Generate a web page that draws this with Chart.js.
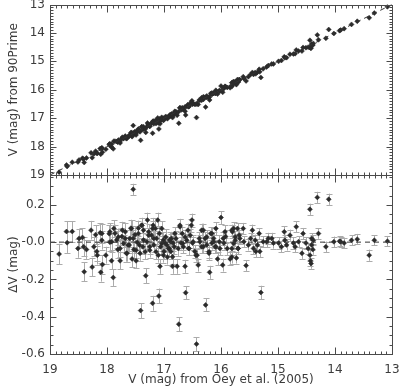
<!DOCTYPE html>
<html><head><meta charset="utf-8">
<script src="https://cdn.jsdelivr.net/npm/chart.js@4/dist/chart.umd.min.js"></script>
<style>
html,body{margin:0;padding:0;background:#fff;}
#wrap{position:relative;width:400px;height:388px;overflow:hidden;background:#fff;}
#c1{position:absolute;left:0;top:0;}
#c2{position:absolute;left:0;top:165px;}
</style></head><body>
<div id="wrap">
<canvas id="c1" width="400" height="180"></canvas>
<canvas id="c2" width="400" height="223"></canvas>
</div>
<script>
// V (mag) from Oey et al. (2005)
const V = [18.84,18.71,18.70,18.61,18.51,18.49,18.43,18.41,18.40,18.36,
18.28,18.26,18.23,18.20,18.18,18.17,18.12,18.11,18.09,18.08,
18.02,17.96,17.95,17.92,17.89,17.86,17.83,17.81,17.77,17.74,
17.71,17.68,17.65,17.63,17.60,17.58,17.56,17.54,17.53,17.51,
17.49,17.47,17.45,17.42,17.41,17.39,17.37,17.36,17.32,17.30,
17.27,17.25,17.22,17.20,17.19,17.18,17.15,17.13,17.11,17.10,
17.09,17.07,17.06,17.04,17.01,17.00,16.98,16.95,16.94,16.91,
16.90,16.88,16.85,16.84,16.82,16.79,16.77,16.75,16.74,16.72,
16.70,16.68,16.66,16.63,16.62,16.60,16.58,16.56,16.54,16.51,
16.50,16.46,16.43,16.42,16.40,16.37,16.34,16.31,16.28,16.27,
16.25,16.21,16.20,16.18,16.16,16.13,16.10,16.09,16.06,16.03,
16.00,15.97,15.95,15.92,15.89,15.84,15.81,15.81,15.78,15.80,
15.75,15.73,15.71,15.70,15.68,15.61,15.60,15.56,15.52,15.48,
15.45,15.43,15.40,15.39,15.36,15.33,15.32,15.30,15.26,15.20,
15.17,15.11,15.08,14.99,14.94,14.89,14.88,14.85,14.79,14.73,
14.70,14.68,14.64,14.58,14.56,14.51,14.47,14.44,14.44,14.43,
14.42,14.41,14.41,14.39,14.38,14.31,14.29,14.16,14.11,14.02,
13.92,13.90,13.84,13.71,13.61,13.40,13.31,13.08,
18.09,17.95,17.92,17.88,17.80,17.77,17.73,17.68,17.66,17.61,
17.57,17.54,17.49,17.45,17.43,17.39,17.36,17.33,17.29,17.27,
17.25,17.20,17.18,17.14,17.08,17.04,17.01,16.97,16.92,16.88,
16.85,
16.87,16.81,16.72,16.67,16.63,16.57,16.52,16.49,16.44,16.38,
16.34,16.31,16.25,16.21,16.16,16.13,16.09,16.02,15.96,15.93,
15.81,15.78,15.75,15.70,15.67];

// V (mag) from 90Prime
const V90 = [18.90,18.65,18.70,18.55,18.54,18.47,18.41,18.44,18.56,18.40,
18.22,18.39,18.26,18.16,18.23,18.24,18.07,18.27,18.08,18.20,
18.09,17.92,17.95,18.02,18.08,17.81,17.82,17.85,17.87,17.71,
17.72,17.63,17.71,17.65,17.58,17.51,17.65,17.26,17.57,17.47,
17.59,17.47,17.38,17.48,17.78,17.30,17.40,17.30,17.50,17.30,
17.22,17.29,17.18,17.53,17.10,17.20,17.08,17.11,16.99,17.17,
17.38,17.20,17.09,16.97,17.00,17.05,16.99,16.97,17.02,16.94,
16.89,16.93,16.98,16.85,16.85,16.77,16.90,16.78,17.18,16.64,
16.71,16.63,16.69,16.76,16.89,16.59,16.52,16.59,16.50,16.39,
16.51,16.51,16.98,16.49,16.52,16.37,16.28,16.34,16.26,16.61,
16.27,16.27,16.36,16.13,16.17,16.11,16.13,16.02,16.15,16.03,
15.87,16.09,15.96,15.89,15.92,15.93,15.84,15.89,15.71,15.75,
15.74,15.82,15.64,15.73,15.64,15.54,15.60,15.69,15.54,15.46,
15.39,15.46,15.39,15.44,15.38,15.28,15.37,15.57,15.26,15.20,
15.15,15.09,15.09,15.00,14.97,14.84,14.87,14.87,14.75,14.74,
14.73,14.60,14.64,14.64,14.51,14.52,14.50,14.26,14.51,14.53,
14.54,14.39,14.43,14.43,14.37,14.07,14.24,14.19,13.88,14.02,
13.92,13.90,13.85,13.70,13.59,13.47,13.30,13.08,
18.04,17.90,17.92,17.81,17.77,17.80,17.67,17.66,17.72,17.63,
17.50,17.52,17.53,17.40,17.45,17.30,17.35,17.38,17.17,17.23,
17.28,17.13,17.16,17.19,17.03,17.05,17.08,16.94,16.95,16.88,
16.93,
16.85,16.76,16.63,16.68,16.60,16.60,16.43,16.49,16.51,16.36,
16.37,16.25,16.22,16.26,16.11,16.13,16.12,16.05,15.94,15.88,
15.75,15.79,15.72,15.73,15.65];

// Delta V (mag)
const dV = [-0.064,0.057,-0.003,0.057,-0.034,0.02,0.025,-0.025,-0.159,-0.04,
0.064,-0.134,-0.025,0.04,-0.05,-0.07,0.05,-0.162,0.01,-0.12,
-0.07,0.045,0.0,-0.1,-0.19,0.048,0.012,-0.04,-0.1,0.03,
-0.007,0.055,-0.06,-0.015,0.02,0.075,-0.09,0.283,-0.04,0.04,
-0.1,0.0,0.075,-0.06,-0.367,0.09,-0.025,0.064,-0.18,0.002,
0.055,-0.043,0.037,-0.328,0.09,-0.015,0.073,0.02,0.118,-0.07,
-0.289,-0.13,-0.025,0.073,0.012,-0.05,-0.005,-0.015,-0.08,-0.034,
0.012,-0.05,-0.13,-0.005,-0.025,0.02,-0.13,-0.034,-0.44,0.082,
-0.005,0.046,-0.025,-0.13,-0.271,0.01,0.064,-0.034,0.037,0.118,
-0.005,-0.05,-0.547,-0.07,-0.123,0.002,0.064,-0.025,0.02,-0.337,
-0.015,-0.06,-0.162,0.046,-0.005,0.02,-0.025,0.073,-0.09,0.002,
0.132,-0.123,-0.005,0.03,-0.034,-0.09,-0.034,-0.08,0.073,0.055,
0.01,-0.085,0.073,-0.034,0.037,0.073,0.002,-0.126,-0.015,0.02,
0.064,-0.034,0.01,-0.05,-0.015,0.046,-0.05,-0.27,0.002,0.002,
0.02,0.02,-0.005,-0.005,-0.025,0.055,0.01,-0.015,0.037,-0.005,
-0.025,0.082,0.002,-0.06,0.046,-0.005,-0.034,0.176,-0.07,-0.1,
-0.115,0.02,-0.015,-0.04,0.01,0.24,0.046,-0.025,0.23,0.002,
0.005,0.002,-0.005,0.01,0.016,-0.07,0.01,0.005,
0.046,0.055,0.002,0.073,0.028,-0.034,0.064,0.02,-0.06,-0.016,
0.073,0.02,-0.043,0.046,-0.016,0.09,0.011,-0.052,0.118,0.037,
-0.025,0.073,0.02,-0.052,0.046,-0.007,-0.07,0.028,-0.034,0.002,
-0.079,
0.02,0.046,0.09,-0.007,0.028,-0.034,0.09,0.002,-0.07,0.02,
-0.025,0.064,0.028,-0.052,0.046,0.002,-0.025,-0.034,0.02,0.055,
0.064,-0.007,0.028,-0.034,0.02];

// error of Delta V (mag)
const dVerr = [0.055,0.055,0.055,0.055,0.05,0.05,0.05,0.05,0.05,0.05,
0.05,0.05,0.05,0.05,0.05,0.05,0.05,0.05,0.05,0.05,
0.045,0.045,0.045,0.045,0.045,0.045,0.045,0.045,0.045,0.045,
0.045,0.045,0.045,0.045,0.045,0.045,0.045,0.03,0.045,0.045,
0.04,0.04,0.04,0.04,0.04,0.04,0.04,0.04,0.04,0.04,
0.04,0.04,0.04,0.04,0.04,0.04,0.04,0.04,0.04,0.04,
0.04,0.04,0.04,0.04,0.04,0.04,0.04,0.04,0.04,0.04,
0.04,0.04,0.04,0.04,0.04,0.04,0.04,0.04,0.038,0.04,
0.035,0.035,0.035,0.035,0.035,0.035,0.035,0.035,0.035,0.035,
0.035,0.035,0.038,0.035,0.035,0.035,0.035,0.035,0.035,0.035,
0.035,0.035,0.035,0.035,0.035,0.035,0.035,0.035,0.035,0.035,
0.035,0.035,0.035,0.035,0.035,0.035,0.035,0.035,0.035,0.035,
0.03,0.03,0.03,0.03,0.03,0.03,0.03,0.03,0.03,0.03,
0.03,0.03,0.03,0.03,0.03,0.03,0.03,0.036,0.03,0.03,
0.03,0.03,0.03,0.03,0.03,0.03,0.03,0.03,0.03,0.03,
0.03,0.03,0.03,0.03,0.03,0.03,0.03,0.03,0.03,0.03,
0.028,0.028,0.028,0.028,0.028,0.03,0.028,0.028,0.03,0.028,
0.028,0.028,0.028,0.028,0.028,0.03,0.028,0.028,
0.05,0.045,0.045,0.045,0.045,0.045,0.045,0.045,0.045,0.045,
0.045,0.045,0.04,0.04,0.04,0.04,0.04,0.04,0.04,0.04,
0.04,0.04,0.04,0.04,0.04,0.04,0.04,0.04,0.04,0.04,
0.04,
0.035,0.035,0.035,0.035,0.035,0.035,0.035,0.035,0.035,0.035,
0.035,0.035,0.035,0.035,0.035,0.035,0.035,0.035,0.035,0.035,
0.03,0.03,0.03,0.03,0.03];

// axis ranges and tick labels
const xRange = [13, 19];
const xTicks = [19, 18, 17, 16, 15, 14, 13];
const topRange = [13, 19];
const topTicks = [13, 14, 15, 16, 17, 18, 19];
const botRange = [-0.6, 0.36];
const botTicks = [-0.6, -0.4, -0.2, 0.0, 0.2];
const xTitle = 'V (mag) from Oey et al. (2005)';
const topTitle = 'V (mag) from 90Prime';
const botTitle = '\u0394V (mag)';

const FONT = "'DejaVu Sans', Verdana, sans-serif";
const TXT = '#3c3c3c';
const AX = '#4a4a4a';
const PT = '#2a2a2a';

function tickPlugin(xMaj, xMin, yMaj, yMin) {
  return {
    id: 'frameTicks',
    afterDatasetsDraw(chart) {
      const {ctx, chartArea: a, scales} = chart;
      const x = scales.x, y = scales.y;
      const L = Math.round(a.left) + 0.5, R = Math.round(a.right) + 0.5;
      const T = Math.round(a.top) + 0.5, B = Math.round(a.bottom) + 0.5;
      ctx.save();
      ctx.strokeStyle = AX; ctx.lineWidth = 1;
      ctx.strokeRect(L, T, R - L, B - T);
      ctx.beginPath();
      const nx = Math.round(xMaj / xMin);
      for (let k = Math.ceil(x.min / xMin - 1e-6); k <= Math.floor(x.max / xMin + 1e-6); k++) {
        const px = Math.round(x.getPixelForValue(k * xMin)) + 0.5;
        const len = (k % nx === 0) ? 7 : 3;
        ctx.moveTo(px, B); ctx.lineTo(px, B - len);
        ctx.moveTo(px, T); ctx.lineTo(px, T + len);
      }
      const ny = Math.round(yMaj / yMin);
      for (let k = Math.ceil(y.min / yMin - 1e-6); k <= Math.floor(y.max / yMin + 1e-6); k++) {
        const py = Math.round(y.getPixelForValue(k * yMin)) + 0.5;
        const len = (k % ny === 0) ? 6 : 3;
        ctx.moveTo(L, py); ctx.lineTo(L + len, py);
        ctx.moveTo(R, py); ctx.lineTo(R - len, py);
      }
      ctx.stroke();
      ctx.restore();
    }
  };
}

const errPlugin = {
  id: 'errBars',
  beforeDatasetsDraw(chart) {
    const {ctx, chartArea: a, scales: {x, y}} = chart;
    ctx.save();
    ctx.beginPath(); ctx.rect(a.left, a.top, a.right - a.left, a.bottom - a.top); ctx.clip();
    ctx.strokeStyle = '#ababab'; ctx.lineWidth = 1;
    ctx.beginPath();
    for (let i = 0; i < V.length; i++) {
      const px = Math.round(x.getPixelForValue(V[i])) + 0.5;
      const y1 = y.getPixelForValue(dV[i] + dVerr[i]);
      const y2 = y.getPixelForValue(dV[i] - dVerr[i]);
      ctx.moveTo(px, y1); ctx.lineTo(px, y2);
      ctx.moveTo(px - 3, Math.round(y1) + 0.5); ctx.lineTo(px + 3, Math.round(y1) + 0.5);
      ctx.moveTo(px - 3, Math.round(y2) + 0.5); ctx.lineTo(px + 3, Math.round(y2) + 0.5);
    }
    ctx.stroke();
    ctx.restore();
  }
};

Chart.defaults.font.family = FONT;
Chart.defaults.color = TXT;

const ptStyle = {pointStyle: 'rectRot', pointRadius: 2.5, pointBackgroundColor: PT, pointBorderColor: PT, pointBorderWidth: 0.5, showLine: false};

function yFit(s) { s.width = 50; s.paddingTop = 0; s.paddingBottom = 0; }
function setTicks(list) { return s => { s.ticks = list.map(v => ({value: v})); }; }

new Chart(document.getElementById('c1'), {
  type: 'scatter',
  data: {
    datasets: [
      {data: [{x: xRange[1], y: topRange[1]}, {x: xRange[0], y: topRange[0]}], showLine: true, borderColor: '#333', borderWidth: 1, borderDash: [5, 4], pointRadius: 0},
      Object.assign({data: V.map((v, i) => ({x: v, y: V90[i]}))}, ptStyle)
    ]
  },
  options: {
    responsive: false, animation: false,
    layout: {padding: {left: 0, right: 8, top: 1, bottom: 5}},
    plugins: {legend: {display: false}, tooltip: {enabled: false}},
    scales: {
      x: {type: 'linear', min: xRange[0], max: xRange[1], reverse: true, display: false},
      y: {type: 'linear', min: topRange[0], max: topRange[1], reverse: true,
        grid: {display: false, drawTicks: false}, border: {display: false},
        afterBuildTicks: setTicks(topTicks),
        ticks: {padding: 5, font: {size: 12}, color: TXT},
        title: {display: true, text: topTitle, font: {size: 12}, color: TXT, padding: {top: 7, bottom: 0}},
        afterFit: yFit}
    }
  },
  plugins: [tickPlugin(1, 0.1, 1, 0.1)]
});

new Chart(document.getElementById('c2'), {
  type: 'scatter',
  data: {
    datasets: [
      {data: [{x: xRange[1], y: 0}, {x: xRange[0], y: 0}], showLine: true, borderColor: '#333', borderWidth: 1, borderDash: [5, 4], pointRadius: 0},
      Object.assign({data: V.map((v, i) => ({x: v, y: dV[i]}))}, ptStyle)
    ]
  },
  options: {
    responsive: false, animation: false,
    layout: {padding: {left: 0, right: 8, top: 10, bottom: 0}},
    plugins: {legend: {display: false}, tooltip: {enabled: false}},
    scales: {
      x: {type: 'linear', min: xRange[0], max: xRange[1], reverse: true,
        grid: {display: false, drawTicks: false}, border: {display: false},
        afterBuildTicks: setTicks(xTicks),
        ticks: {padding: 9, font: {size: 12}, color: TXT, maxRotation: 0},
        title: {display: true, text: xTitle, font: {size: 12}, color: TXT, padding: {top: 0, bottom: 1}},
        afterFit(s) { s.height = 34; s.paddingLeft = 0; s.paddingRight = 0; }},
      y: {type: 'linear', min: botRange[0], max: botRange[1],
        grid: {display: false, drawTicks: false}, border: {display: false},
        afterBuildTicks: setTicks(botTicks),
        ticks: {padding: 5, font: {size: 12}, color: TXT,
          callback: v => Math.abs(v) < 1e-9 ? '-0.0' : v.toFixed(1)},
        title: {display: true, text: botTitle, font: {size: 12}, color: TXT, padding: {top: 7, bottom: 0}},
        afterFit: yFit}
    }
  },
  plugins: [errPlugin, tickPlugin(1, 0.1, 0.2, 0.05)]
});
</script>
</body></html>
